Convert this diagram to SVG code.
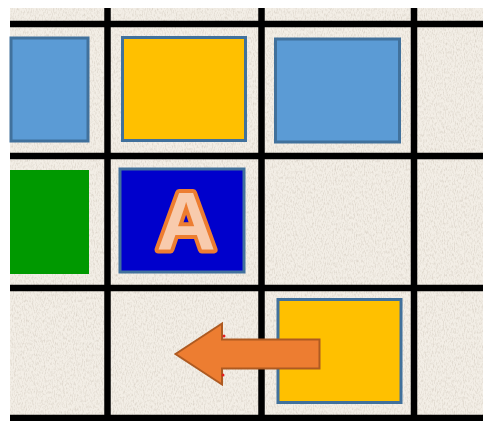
<svg xmlns="http://www.w3.org/2000/svg" width="483" height="421" viewBox="0 0 483 421">
<defs>
<filter id="tex" x="0" y="0" width="100%" height="100%">
<feTurbulence type="fractalNoise" baseFrequency="0.9 0.35" numOctaves="2" seed="3" result="n"/>
<feColorMatrix in="n" type="matrix" values="0 0 0 0 0.6  0 0 0 0 0.54  0 0 0 0 0.46  0 0 0 1.3 -0.55" result="m"/>
<feComposite in="m" in2="SourceGraphic" operator="in" result="c"/>
<feMerge><feMergeNode in="SourceGraphic"/><feMergeNode in="c"/></feMerge>
</filter>
</defs>
<style>
.grid{stroke:#000;stroke-width:6.5;fill:none}
.box{stroke:#41719C;stroke-width:3}
.blue{fill:#5B9BD5}
.yellow{fill:#FFC000}
.green{fill:#009900}
.dark{fill:#0000CC}
.letter{font-family:"Liberation Sans",Arial,sans-serif;font-weight:bold;font-size:82px;fill:#F8CBAD;stroke:#ED7D31;stroke-width:8;stroke-linejoin:round;paint-order:stroke;text-anchor:middle}
</style>
<rect width="483" height="421" fill="#fff"/>
<rect x="10" y="8" width="473" height="413" fill="#F3EEE6" filter="url(#tex)"/>
<g id="grid">
<line class="grid" x1="10" y1="24" x2="483" y2="24"/>
<line class="grid" x1="10" y1="156" x2="483" y2="156"/>
<line class="grid" x1="10" y1="288" x2="483" y2="288"/>
<line class="grid" x1="10" y1="418" x2="483" y2="418"/>
<line class="grid" x1="107.5" y1="8" x2="107.5" y2="421"/>
<line class="grid" x1="261.5" y1="8" x2="261.5" y2="421"/>
<line class="grid" x1="414" y1="8" x2="414" y2="421"/>
</g>
<g id="blue-left"><rect class="box blue" x="11" y="38" width="77" height="103"/></g>
<g id="yellow-top"><rect class="box yellow" x="122.5" y="37.5" width="123" height="103"/></g>
<g id="blue-right"><rect class="box blue" x="275.5" y="39" width="124" height="103"/></g>
<g id="green"><rect class="green" x="10" y="170" width="79" height="104"/></g>
<g id="A-node"><rect class="box dark" x="120" y="169" width="124" height="103"/>
<text class="letter" x="186" y="249">A</text></g>
<g id="yellow-bottom"><rect class="box yellow" x="278" y="299.5" width="123" height="103"/></g>
<g id="connectors">
<polygon points="175.5,354 222,323.5 222,339.5 319.5,339.5 319.5,368.5 222,368.5 222,384.5" fill="#ED7D31" stroke="#AE5A21" stroke-width="2" stroke-linejoin="miter"/>
<circle cx="224" cy="336" r="1.5" fill="#E02020"/>
<circle cx="223" cy="375" r="1.5" fill="#E02020"/>
</g>
</svg>
